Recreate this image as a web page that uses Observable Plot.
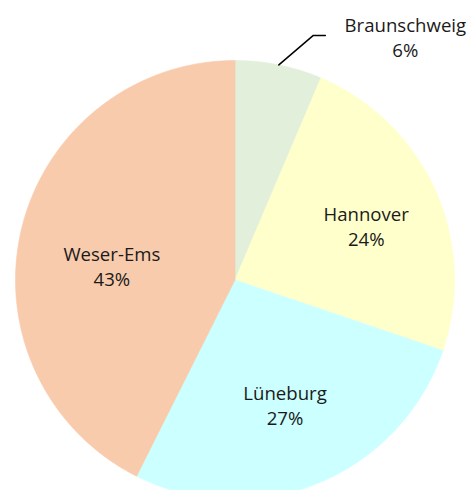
<!DOCTYPE html>
<html><head><meta charset="utf-8">
<script src="https://cdn.jsdelivr.net/npm/d3@7"></script>
<script src="https://cdn.jsdelivr.net/npm/@observablehq/plot@0.6"></script>
<style>body{margin:0;background:#fff}</style>
</head><body><div id="chart"></div>
<script>
const regions = ["Braunschweig", "Hannover", "Lüneburg", "Weser-Ems"];
const shares = [6.4, 23.8, 27.2, 42.6];
const colors = ["#e2efda", "#ffffcc", "#ccffff", "#f8cbad"];

const W = 473, H = 490, cx = 234.5, cy = 279.5, R = 219.5;
const data = regions.map((name, i) => ({name, share: shares[i], color: colors[i]}));
const arcs = d3.pie().sort(null).value(d => d.share)(data);
const pt = (a, r) => ({x: r * Math.sin(a), y: r * Math.cos(a)});

const slices = arcs.map(a => {
  const pts = [{x: 0, y: 0}];
  const n = Math.max(2, Math.ceil((a.endAngle - a.startAngle) / (Math.PI / 360)));
  for (let k = 0; k <= n; k++) pts.push(pt(a.startAngle + (a.endAngle - a.startAngle) * k / n, 1));
  pts.push({x: 0, y: 0});
  return {d: a.data, mid: (a.startAngle + a.endAngle) / 2, pts};
});

const nudges = {"Hannover": [11, -1], "Weser-Ems": [5, 16], "Lüneburg": [0, 3]};
const marks = [];
for (const s of slices) {
  marks.push(Plot.line(s.pts, {x: "x", y: "y", fill: s.d.color, stroke: s.d.color, strokeWidth: 0.6, curve: "linear"}));
}
const textOpts = {fontSize: 18.6, lineHeight: 1.34, fill: "#1a1a1a", fontFamily: "'Open Sans', sans-serif"};
for (const s of slices) {
  const label = `${s.d.name}\n${Math.round(s.d.share)}%`;
  if (s.d.share < 10) {
    const p0 = pt(s.mid, 1);
    const p1 = {x: p0.x + 34.5 / R, y: p0.y + 29.5 / R};
    const p2 = {x: p1.x + 12 / R, y: p1.y};
    marks.push(Plot.line([p0, p1, p2], {x: "x", y: "y", stroke: "#000", strokeWidth: 1.5}));
    marks.push(Plot.text([{x: p2.x, y: p2.y, label}], {x: "x", y: "y", text: "label", dx: 80, dy: 1, ...textOpts}));
  } else {
    const p = pt(s.mid, 0.6);
    const [dx, dy] = nudges[s.d.name] || [0, 0];
    marks.push(Plot.text([{x: p.x, y: p.y, label}], {x: "x", y: "y", text: "label", dx, dy, ...textOpts}));
  }
}

const chart = Plot.plot({
  width: W, height: H,
  margin: 0,
  x: {domain: [-cx / R, (W - cx) / R], axis: null},
  y: {domain: [-(H - cy) / R, cy / R], axis: null},
  style: {fontFamily: "'Open Sans', sans-serif", background: "#fff"},
  marks
});
document.getElementById("chart").append(chart);
</script>
</body></html>
